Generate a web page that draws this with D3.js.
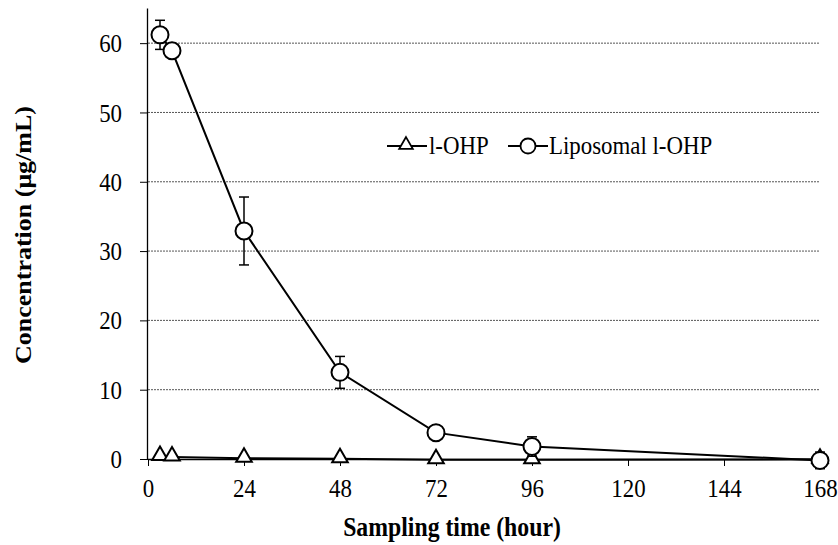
<!DOCTYPE html>
<html>
<head>
<meta charset="utf-8">
<script src="https://cdn.jsdelivr.net/npm/d3@7"></script>
<style>
  body { margin: 0; background: #fff; }
  svg text { font-family: "Liberation Serif", "Times New Roman", serif; fill: #000; }
</style>
</head>
<body>
<div id="chart"></div>
<script>
// 데이터
const hours = [3, 6, 24, 48, 72, 96, 168];
const freeDrug = [0.35, 0.3, 0.1, 0.05, -0.1, -0.1, -0.05];
const liposomal = [61.2, 58.9, 32.9, 12.5, 3.8, 1.8, -0.2];
const liposomalErr = [2.1, 0, 4.9, 2.3, 0, 1.4, 1.2];
const xTicks = [0, 24, 48, 72, 96, 120, 144, 168];
const yTicks = [0, 10, 20, 30, 40, 50, 60];

const width = 838, height = 545;
const sx = 0.88; // 원본 그림이 가로로 살짝 눌려 있어서 글자도 맞춰줌
const svg = d3.select("#chart").append("svg")
  .attr("width", width).attr("height", height);

const x = d3.scaleLinear().domain([0, 168]).range([148, 820]);
const y = d3.scaleLinear().domain([0, 65]).range([459, 8.5]);

// 그리드
svg.append("g").selectAll("line")
  .data(yTicks.filter(d => d > 0))
  .enter().append("line")
  .attr("x1", x(0)).attr("x2", x(168))
  .attr("y1", d => y(d)).attr("y2", d => y(d))
  .attr("stroke", "#555").attr("stroke-width", 1)
  .attr("stroke-dasharray", "2,1");

// 축
const xAxis = svg.append("g")
  .attr("transform", `translate(0,${y(0)})`)
  .call(d3.axisBottom(x).tickValues(xTicks).tickSize(7));
const yAxis = svg.append("g")
  .attr("transform", `translate(${x(0)},0)`)
  .call(d3.axisLeft(y).tickValues(yTicks).tickSize(8));
[xAxis, yAxis].forEach(a => {
  a.select(".domain").attr("stroke", "#000").attr("stroke-width", 1.3);
  a.selectAll(".tick line").attr("stroke", "#000");
  a.selectAll(".tick text").attr("font-size", "26px")
    .style("font-family", "'Liberation Serif', serif")
    .attr("transform", `scale(${sx},1)`);
});
xAxis.selectAll(".tick text").attr("y", 38).attr("dy", 0);
yAxis.selectAll(".tick text").attr("x", -26 / sx).attr("dy", "0.33em");
yAxis.select(".domain").attr("d", `M-0.5,${y(0)}V${y(65)}`);
xAxis.select(".domain").attr("d", `M${x(0)},0.5H${x(168)}`);

// 축 제목
svg.append("text")
  .attr("transform", `translate(452,536) scale(${sx},1)`)
  .attr("text-anchor", "middle")
  .attr("font-size", "27px").attr("font-weight", "bold")
  .text("Sampling time (hour)");
svg.append("text")
  .attr("transform", `translate(31,235) rotate(-90) scale(1,${sx})`)
  .attr("text-anchor", "middle")
  .attr("font-size", "26px").attr("font-weight", "bold")
  .text("Concentration (μg/mL)");

const line = d3.line().x(d => x(d[0])).y(d => y(d[1]));

// l-OHP
const freePts = hours.map((h, i) => [h, freeDrug[i]]);
svg.append("path").datum(freePts)
  .attr("fill", "none").attr("stroke", "#000").attr("stroke-width", 2)
  .attr("d", line);

const tri = d3.symbol().type(d3.symbolTriangle).size(105);
svg.append("g").selectAll("path")
  .data(freePts).enter().append("path")
  .attr("d", tri)
  .attr("transform", d => `translate(${x(d[0])},${y(d[1]) - 1})`)
  .attr("fill", "#fff").attr("stroke", "#000").attr("stroke-width", 2);

// Liposomal l-OHP
const lipoPts = hours.map((h, i) => [h, liposomal[i], liposomalErr[i]]);
svg.append("path").datum(lipoPts)
  .attr("fill", "none").attr("stroke", "#000").attr("stroke-width", 2)
  .attr("d", line);

const err = svg.append("g").selectAll("g")
  .data(lipoPts.filter(d => d[2] > 0)).enter().append("g")
  .attr("stroke", "#000").attr("stroke-width", 1.5);
err.append("line")
  .attr("x1", d => x(d[0])).attr("x2", d => x(d[0]))
  .attr("y1", d => y(d[1] + d[2])).attr("y2", d => y(d[1] - d[2]));
err.append("line")
  .attr("x1", d => x(d[0]) - 5).attr("x2", d => x(d[0]) + 5)
  .attr("y1", d => y(d[1] + d[2])).attr("y2", d => y(d[1] + d[2]));
err.append("line")
  .attr("x1", d => x(d[0]) - 5).attr("x2", d => x(d[0]) + 5)
  .attr("y1", d => y(d[1] - d[2])).attr("y2", d => y(d[1] - d[2]));

svg.append("g").selectAll("circle")
  .data(lipoPts).enter().append("circle")
  .attr("cx", d => x(d[0])).attr("cy", d => y(d[1]))
  .attr("r", 8.5)
  .attr("fill", "#fff").attr("stroke", "#000").attr("stroke-width", 2);

// 범례
const legY = 146;
const leg = svg.append("g");
leg.append("line").attr("x1", 387).attr("x2", 427).attr("y1", legY).attr("y2", legY)
  .attr("stroke", "#000").attr("stroke-width", 2);
leg.append("path").attr("d", d3.symbol().type(d3.symbolTriangle).size(80))
  .attr("transform", `translate(406,${legY - 1})`)
  .attr("fill", "#fff").attr("stroke", "#000").attr("stroke-width", 1.8);
leg.append("text").attr("transform", `translate(429,${legY + 8}) scale(${sx},1)`)
  .attr("font-size", "26px").text("l-OHP");
leg.append("line").attr("x1", 508).attr("x2", 548).attr("y1", legY).attr("y2", legY)
  .attr("stroke", "#000").attr("stroke-width", 2);
leg.append("circle").attr("cx", 528).attr("cy", legY).attr("r", 7.5)
  .attr("fill", "#fff").attr("stroke", "#000").attr("stroke-width", 1.8);
leg.append("text").attr("transform", `translate(549,${legY + 8}) scale(${sx},1)`)
  .attr("font-size", "26px").text("Liposomal l-OHP");
</script>
</body>
</html>
